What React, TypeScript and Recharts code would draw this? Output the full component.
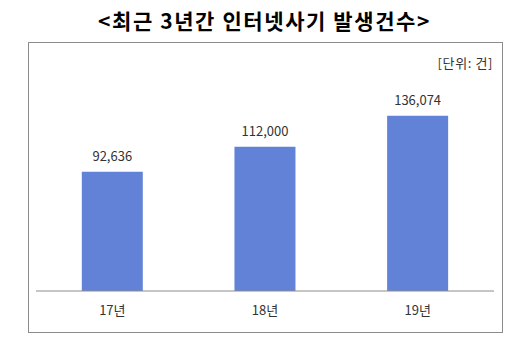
import { BarChart, Bar, XAxis, YAxis, LabelList } from "recharts";

// ---------- Data ----------

const YEARS = ["17년", "18년", "19년"];
const CASES = [92636, 112000, 136074];
const EDGE_TICKS = [0, 1, 2, 3];

const TITLE = "<최근 3년간 인터넷사기 발생건수>";
const UNIT = "[단위: 건]";

const BAR_COLOR = "#6282d8";
const LINE_COLOR = "#8c8c8c";
const TEXT_COLOR = "#333333";
const FONT = "'Noto Sans CJK KR', 'Noto Sans', sans-serif";

const chartData = YEARS.map((year, i) => ({ year, cases: CASES[i] }));

const formatCount = (value: number) => value.toLocaleString("en-US");

export default function App() {
    return (
        <div
            style={{
                position: "absolute",
                left: 0,
                top: 0,
                width: 529,
                height: 343,
                background: "#fff",
                fontFamily: FONT,
            }}
        >
            {/* Title */}
            <div
                style={{
                    position: "absolute",
                    left: 0,
                    top: 5,
                    width: 529,
                    textAlign: "center",
                    fontSize: 21,
                    fontWeight: 700,
                    letterSpacing: 1.6,
                    lineHeight: "30px",
                    color: "#000",
                }}
            >
                {TITLE}
            </div>

            {/* Frame */}
            <div
                style={{
                    position: "absolute",
                    left: 28,
                    top: 42,
                    width: 473,
                    height: 289,
                    border: `1px solid ${LINE_COLOR}`,
                }}
            />

            {/* Unit */}
            <div
                style={{
                    position: "absolute",
                    right: 529 - 493,
                    top: 53,
                    fontSize: 13,
                    letterSpacing: 0.6,
                    lineHeight: "19px",
                    color: TEXT_COLOR,
                }}
            >
                {UNIT}
            </div>

            <div style={{ position: "absolute", left: 0, top: 0 }}>
                <BarChart
                    width={529}
                    height={343}
                    data={chartData}
                    margin={{ top: 85, right: 35, left: 36, bottom: 0 }}
                    barCategoryGap="30%"
                >
                    <YAxis hide domain={[0, 160000]} />
                    <XAxis
                        xAxisId="b_cat"
                        dataKey="year"
                        axisLine={false}
                        tickLine={false}
                        tickMargin={8}
                        height={51}
                        tick={{ fontSize: 13, fill: TEXT_COLOR, fontFamily: FONT }}
                    />
                    <XAxis
                        xAxisId="a_edge"
                        type="number"
                        domain={[0, 3]}
                        ticks={EDGE_TICKS}
                        tick={false}
                        tickSize={4}
                        height={1}
                        stroke={LINE_COLOR}
                        allowDataOverflow
                    />
                    <Bar
                        xAxisId="b_cat"
                        dataKey="cases"
                        fill={BAR_COLOR}
                        isAnimationActive={false}
                    >
                        <LabelList
                            dataKey="cases"
                            position="top"
                            offset={11}
                            formatter={formatCount}
                            style={{ fontSize: 13, fill: TEXT_COLOR, fontFamily: FONT }}
                        />
                    </Bar>
                </BarChart>
            </div>
        </div>
    );
}
